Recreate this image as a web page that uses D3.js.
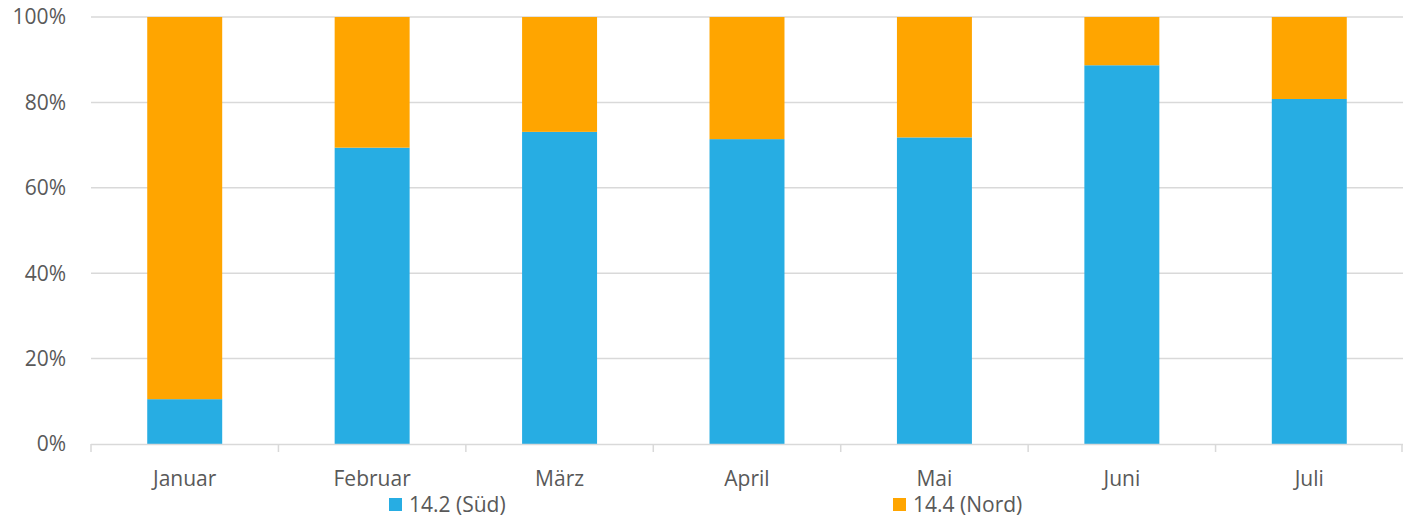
<!DOCTYPE html>
<html>
<head>
<meta charset="utf-8">
<script src="https://cdn.jsdelivr.net/npm/d3@7"></script>
<style>
  body { margin: 0; background: #fff; }
  text { font-family: "Open Sans", "Noto Sans", sans-serif; fill: #595959; }
</style>
</head>
<body>
<svg id="chart" width="1403" height="518"></svg>
<script>
// data (share in %)
let months = ["Januar", "Februar", "März", "April", "Mai", "Juni", "Juli"];
let sued = [10.5, 69.4, 73.1, 71.4, 71.8, 88.7, 80.8];
let nord = [89.5, 30.6, 26.9, 28.6, 28.2, 11.3, 19.2];
let seriesNames = ["14.2 (Süd)", "14.4 (Nord)"];
let seriesColors = ["#27ade3", "#ffa500"];
let yTicks = [0, 20, 40, 60, 80, 100];

let svg = d3.select("#chart");
let xScale = d3.scaleBand().domain(months).range([91, 1403]).paddingInner(0.6).paddingOuter(0.3);
let bandScale = d3.scaleBand().domain(months).range([91, 1403]);
let yScale = d3.scaleLinear().domain([0, 100]).range([444, 17]);

// gridlines
svg.selectAll(".grid")
  .data(yTicks.filter(d => d > 0))
  .enter().append("line")
  .attr("x1", 91).attr("x2", 1403)
  .attr("y1", d => yScale(d)).attr("y2", d => yScale(d))
  .attr("stroke", "#d9d9d9").attr("stroke-width", 1.5);

// y labels
svg.selectAll(".ylab")
  .data(yTicks)
  .enter().append("text")
  .attr("x", 66).attr("y", d => yScale(d))
  .attr("dy", "0.35em")
  .attr("text-anchor", "end")
  .attr("font-size", 21)
  .text(d => d + "%");

// stacked bars
let rows = months.map((m, i) => ({ month: m, s: sued[i], n: nord[i] }));
let stack = d3.stack().keys(["s", "n"])(rows);
svg.selectAll(".layer")
  .data(stack)
  .enter().append("g")
  .attr("fill", (d, i) => seriesColors[i])
  .selectAll("rect")
  .data(d => d)
  .enter().append("rect")
  .attr("x", d => xScale(d.data.month))
  .attr("width", xScale.bandwidth())
  .attr("y", d => yScale(d[1]))
  .attr("height", d => yScale(d[0]) - yScale(d[1]));

// x axis line and ticks
svg.append("line")
  .attr("x1", 91).attr("x2", 1403)
  .attr("y1", 444.5).attr("y2", 444.5)
  .attr("stroke", "#d9d9d9").attr("stroke-width", 1.5);
let edges = months.map(m => bandScale(m)).concat([1402]);
svg.selectAll(".xtick")
  .data(edges)
  .enter().append("line")
  .attr("x1", d => d).attr("x2", d => d)
  .attr("y1", 444).attr("y2", 452)
  .attr("stroke", "#d9d9d9").attr("stroke-width", 1.5);

// x labels
svg.selectAll(".xlab")
  .data(months)
  .enter().append("text")
  .attr("x", d => bandScale(d) + bandScale.bandwidth() / 2)
  .attr("y", 486)
  .attr("text-anchor", "middle")
  .attr("font-size", 21)
  .text(d => d);

// legend
let legendX = [389, 893];
let legend = svg.selectAll(".legend")
  .data(seriesNames)
  .enter().append("g")
  .attr("transform", (d, i) => "translate(" + legendX[i] + ",498)");
legend.append("rect")
  .attr("width", 13).attr("height", 13)
  .attr("fill", (d, i) => seriesColors[i]);
legend.append("text")
  .attr("x", 20).attr("y", 7)
  .attr("dy", "0.35em")
  .attr("font-size", 21)
  .text(d => d);
</script>
</body>
</html>
